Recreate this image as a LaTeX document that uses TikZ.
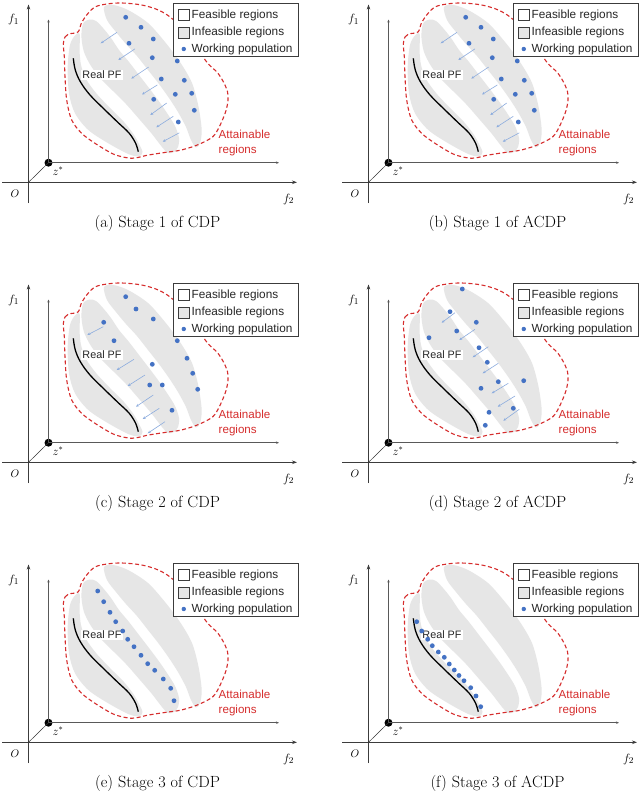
\documentclass[tikz,border=0pt]{standalone}
\usepackage{fontspec}
\newfontfamily\lgfont{Liberation Sans}
\usetikzlibrary{arrows.meta}

\definecolor{attred}{RGB}{214,45,45}
\definecolor{dotblue}{RGB}{68,114,196}
\definecolor{arrblue}{RGB}{140,172,222}
\definecolor{infgray}{RGB}{230,230,230}
\definecolor{axgray}{RGB}{60,60,60}

\tikzset{
  outaxis/.style={line width=0.9pt, draw=axgray, -{Stealth[length=5pt,width=3.6pt]}},
  inaxis/.style={line width=0.55pt, draw=black!65, -{Stealth[length=3pt,width=2.4pt]}},
  attain/.style={draw=attred, line width=1.1pt, dash pattern=on 4pt off 2.6pt},
  pfline/.style={line width=1.3pt, draw=black},
  popdot/.style={circle, fill=dotblue, inner sep=0pt, minimum size=4.8pt},
  zdot/.style={circle, fill=black, inner sep=0pt, minimum size=8pt},
  mvarrow/.style={draw=arrblue, line width=0.6pt, -{Stealth[length=3pt,width=2.6pt]}},
  legbox/.style={draw=axgray, line width=0.7pt, fill=white, inner sep=0pt},
  legtext/.style={font=\lgfont\fontsize{11.8}{13}\selectfont, anchor=west, inner sep=0pt, text=black!85},
  labtext/.style={font=\fontsize{12.5}{14}\selectfont, inner sep=0pt},
  captext/.style={font=\fontsize{16.2}{19}\selectfont, inner sep=0pt}
}

\newcommand{\mvarr}[4]{\coordinate (ms) at (#1,#2); \coordinate (me) at (#3,#4); \draw[mvarrow] (ms) -- (me);}

\newcommand{\panelbase}[1]{%
  % infeasible regions
  \fill[infgray] plot[smooth cycle, tension=0.5] coordinates {(79,32.7) (74.5,36) (70,45) (67.7,66.7) (69,93.3) (75,113.3) (88.3,130) (108.3,143.3) (128.3,154) (139,156.5) (142.5,152) (140,146) (134,135) (124,122) (110,108) (96,93) (86,79) (81,65) (79.5,50) (80,38)};
  \fill[infgray] plot[smooth cycle, tension=0.5] coordinates {(84,22) (90,19.5) (96,21) (103,28) (111,38) (119,50) (129,62) (139,75) (149,88) (158,100) (167,113) (175,126) (179,138) (178,147) (174,152) (168,153) (162,147) (152,134) (140,120) (126,104) (113,91) (101,79) (91,66) (84,52) (81.5,38) (82,28)};
  \fill[infgray] plot[smooth cycle, tension=0.5] coordinates {(104,7) (113,5) (128,10) (148,23) (165,42) (180,62) (192,83) (198.5,106.7) (201.7,130) (200,143) (196,147.5) (191,140) (186,127) (178,112) (169,98) (159,84) (148,70) (137,56) (126,44) (116,32) (107,20)};
  % attainable regions
  \draw[attain] plot[smooth cycle, tension=0.55] coordinates {(63.3,44) (65,37) (68.5,34) (78,32) (81,24) (86.7,15) (95,7) (107,4) (122,3) (141.7,5) (158.3,10) (171.7,18.3) (188.3,35) (206.7,62) (216.7,71.7) (223.3,81.7) (227.5,91.7) (228,100) (226.2,110) (221.7,121.7) (216.7,131.7) (212.5,137) (204,142) (193.3,146.5) (180,150.3) (168,152) (156,153.8) (146,155.5) (138,157.5) (131.7,158.3) (121.7,156.7) (111.7,153.3) (95,143.3) (81.7,133.3) (71.7,120) (66.7,100) (65,76.7) (64.3,56.7)};
  % real PF
  \draw[pfline] plot[smooth, tension=0.6] coordinates {(73.3,58.3) (75.3,70) (80.5,82) (90,95) (104,109) (118,122.5) (129,133) (135.5,143) (138.3,151.7)};
  \node[font=\lgfont\fontsize{10.8}{12}\selectfont, inner sep=1pt, fill=white, text=black!85] (rpf) at (102,75) {Real PF};
  \node[font=\lgfont\fontsize{11.6}{15}\selectfont, text=attred, align=left, anchor=west, inner sep=0pt] (att) at (218.5,142.5) {Attainable\\regions};
  % axes
  \coordinate (org) at (28.5,182.3);
  \coordinate (f1bot) at (28.5,203);
  \coordinate (f1top) at (28.5,4.5);
  \coordinate (f2left) at (2,182.3);
  \coordinate (f2right) at (297,182.3);
  \node[zdot] (zs) at (48.5,162.7) {};
  \coordinate (i1top) at (48.5,19.5);
  \coordinate (i2right) at (279,162.7);
  \draw[outaxis] (f1bot) -- (f1top);
  \draw[outaxis] (f2left) -- (f2right);
  \draw[inaxis] (zs.center) -- (i1top);
  \draw[inaxis] (zs.center) -- (i2right);
  \draw[line width=0.5pt, draw=black!80] (org) -- (zs.center);
  \node[labtext] (lf1) at (13.5,20) {$f_1$};
  \node[labtext] (lf2) at (288.5,199) {$f_2$};
  \node[font=\fontsize{11}{13}\selectfont, inner sep=0pt] (lo) at (15,194) {$O$};
  \node[font=\fontsize{12}{14}\selectfont, inner sep=0pt] (lz) at (58,171) {$z^*$};
  % legend
  \node[legbox, minimum width=125pt, minimum height=53pt] (leg) at (235.5,29.5) {};
  \node[legbox, line width=0.6pt, minimum size=11pt] (lgf) at (183.8,14.6) {};
  \node[legbox, line width=0.6pt, fill=infgray, minimum size=11pt] (lgi) at (183.8,32.3) {};
  \node[popdot, minimum size=4.4pt] (lgw) at (183.8,49) {};
  \node[legtext] (tf) at (191.5,15) {Feasible regions};
  \node[legtext] (ti) at (191.5,32.6) {Infeasible regions};
  \node[legtext] (tw) at (191.5,49) {Working population};
  % caption
  \node[captext] (cap) at (157.5,223) {#1};
}

\begin{document}
\begin{tikzpicture}[x=1pt,y=-1pt]
\useasboundingbox (0,0) rectangle (640,811);
\fill[white] (0,0) rectangle (640,811);

% (a)
\begin{scope}[name prefix=a-]
\panelbase{(a) Stage 1 of CDP}
\mvarr{117}{32.3}{100.7}{43.3}
\mvarr{135}{48.8}{118.3}{60}
\mvarr{148.7}{67}{131.3}{78.6}
\mvarr{157.3}{85}{142}{94.5}
\mvarr{166.7}{103}{150.3}{115}
\mvarr{173.3}{116.3}{156.3}{127.3}
\mvarr{179.3}{132.8}{162.7}{141.7}
\foreach \x/\y [count=\i] in {125.7/17.3, 141/27.3, 153.3/39, 129/43.3, 152.3/57.7, 177.3/61, 161.3/79, 184.3/80.3, 191.7/93.3, 175.3/94.3, 153.7/99.3, 194.3/110.3, 178.3/122}
  \node[popdot] (p\i) at (\x,\y) {};
\end{scope}

% (b)
\begin{scope}[shift={(340,0)}, name prefix=b-]
\panelbase{(b) Stage 1 of ACDP}
\mvarr{117}{32.3}{100.7}{43.3}
\mvarr{135}{48.8}{118.3}{60}
\mvarr{148.7}{67}{131.3}{78.6}
\mvarr{157.3}{85}{142}{94.5}
\mvarr{166.7}{103}{150.3}{115}
\mvarr{173.3}{116.3}{156.3}{127.3}
\mvarr{179.3}{132.8}{162.7}{141.7}
\foreach \x/\y [count=\i] in {125.7/17.3, 141/27.3, 153.3/39, 129/43.3, 152.3/57.7, 177.3/61, 161.3/79, 184.3/80.3, 191.7/93.3, 175.3/94.3, 153.7/99.3, 194.3/110.3, 178.3/122}
  \node[popdot] (p\i) at (\x,\y) {};
\end{scope}

% (c)
\begin{scope}[shift={(0,280)}, name prefix=c-]
\panelbase{(c) Stage 2 of CDP}
\mvarr{103.3}{46.7}{87.3}{55}
\mvarr{134}{79.3}{116.7}{90}
\mvarr{145}{95}{127.7}{106}
\mvarr{153.3}{115}{136}{126.7}
\mvarr{159.3}{128.3}{142.7}{139}
\mvarr{165}{141.7}{147.7}{153.3}
\foreach \x/\y [count=\i] in {125.7/16.7, 136/29, 153.3/39, 103.7/42.3, 177.3/60.7, 114/60.7, 187/78.3, 152.3/84.3, 192.7/93.3, 149.7/105, 162.3/105, 197.7/109.3, 172/130.3}
  \node[popdot] (p\i) at (\x,\y) {};
\end{scope}

% (d)
\begin{scope}[shift={(340,280)}, name prefix=d-]
\panelbase{(d) Stage 2 of ACDP}
\mvarr{115}{32.7}{101.7}{42.7}
\mvarr{135}{49.3}{119.3}{60}
\mvarr{148.3}{66.7}{132.7}{77.3}
\mvarr{158.3}{83.3}{142.7}{93.3}
\mvarr{168.3}{103.3}{151.7}{113.3}
\mvarr{175}{116}{157.7}{126.7}
\mvarr{179.3}{129.3}{163.3}{140.7}
\foreach \x/\y [count=\i] in {122.3/9, 110/31.7, 136.3/42.3, 116.7/51, 89/57.7, 139/67.7, 147.3/82.3, 158.3/101.7, 183.7/100.7, 141/108.3, 173.3/128.3, 149/132.3, 145.3/145.3}
  \node[popdot] (p\i) at (\x,\y) {};
\end{scope}

% (e)
\begin{scope}[shift={(0,560)}, name prefix=e-]
\panelbase{(e) Stage 3 of CDP}
\foreach \x/\y [count=\i] in {97.7/31, 103.7/41.7, 110/52.3, 115.7/61.7, 122.7/71, 127.7/79.3, 134/86.7, 141/95.3, 147.7/103.7, 154.7/110.3, 163.3/119, 170.7/128.3, 174/140.7}
  \node[popdot] (p\i) at (\x,\y) {};
\end{scope}

% (f)
\begin{scope}[shift={(340,560)}, name prefix=f-]
\panelbase{(f) Stage 3 of ACDP}
\foreach \x/\y [count=\i] in {76.7/61.7, 81.7/71, 87.7/79.3, 92.3/85.7, 98.3/92, 104.3/97.3, 109.3/104, 114.3/110, 119/115.5, 124/120.7, 130.7/127.7, 136/136, 140.7/146.7}
  \node[popdot] (p\i) at (\x,\y) {};
\end{scope}

\end{tikzpicture}
\end{document}
